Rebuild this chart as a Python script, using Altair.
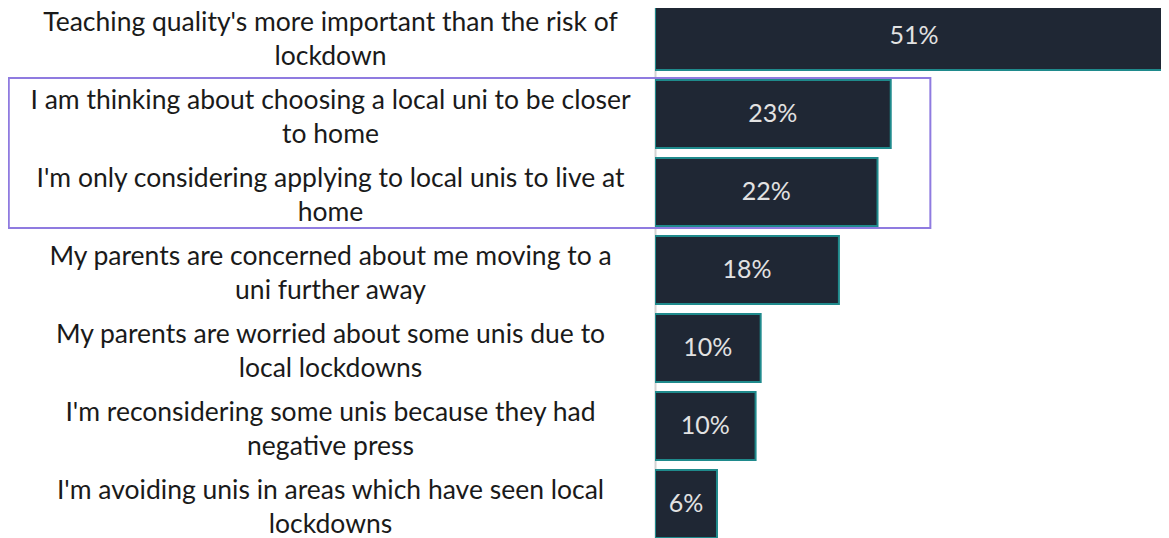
import altair as alt
import pandas as pd

# ---- data ----
statements = [
    "Teaching quality's more important than the risk of|lockdown",
    "I am thinking about choosing a local uni to be closer|to home",
    "I'm only considering applying to local unis to live at|home",
    "My parents are concerned about me moving to a|uni further away",
    "My parents are worried about some unis due to|local lockdowns",
    "I'm reconsidering some unis because they had|negative press",
    "I'm avoiding unis in areas which have seen local|lockdowns",
]
values = [51.0, 23.2, 21.9, 18.1, 10.4, 9.9, 6.1]
value_labels = ["51%", "23%", "22%", "18%", "10%", "10%", "6%"]

# highlighted rows (purple box) and its horizontal extent in value units
highlight_rows = [statements[1], statements[2]]
highlight_x = [-63.6, 27.1]
x_max = 49.8

df = pd.DataFrame({"statement": statements, "value": values, "label": value_labels})
box_df = pd.DataFrame({
    "r0": [highlight_rows[0]], "r1": [highlight_rows[1]],
    "x0": [highlight_x[0]], "x1": [highlight_x[1]],
})

y_scale = alt.Scale(domain=statements, range=[-11, 535], paddingInner=0.128, paddingOuter=0.064)
x_scale = alt.Scale(domain=[0, x_max], nice=False, zero=True)

y_axis = alt.Axis(
    title=None, ticks=False, grid=False,
    domain=True, domainColor="#d3d3d3", domainWidth=2,
    labelAlign="center", labelBaseline="middle", labelPadding=325,
    labelOffset=-13,
    labelFont="Lato", labelFontSize=26.5, labelColor="#1a1a1a",
    labelLimit=900, labelLineHeight=34,
    labelExpr="split(datum.label, '|')",
)

base = alt.Chart(df).encode(
    y=alt.Y("statement:N", scale=y_scale, sort=statements, axis=y_axis)
)

bars = base.mark_bar(
    fill="#1f2734", stroke="#1f8a8c", strokeWidth=2, clip=True
).encode(x=alt.X("value:Q", scale=x_scale, axis=None))

text = base.transform_calculate(mid="datum.value / 2").mark_text(
    font="Lato", fontSize=25, color="#e2e2e2", align="center", baseline="middle"
).encode(
    x=alt.X("mid:Q", scale=x_scale, axis=None),
    text="label:N",
)

box = alt.Chart(box_df).mark_rect(
    filled=False, stroke="#8f7be0", strokeWidth=2, clip=False,
    yOffset=-36, y2Offset=36,
).encode(
    x=alt.X("x0:Q", scale=x_scale, axis=None),
    x2="x1:Q",
    y=alt.Y("r0:N", scale=y_scale, sort=statements),
    y2="r1:N",
)

chart = alt.layer(bars, text, box).properties(
    width=506, height=530,
    autosize=alt.AutoSizeParams(type="none"),
    padding={"left": 647, "top": 0, "right": 0, "bottom": 0},
    background="white",
).configure_view(stroke=None)

chart.save("out.html", embed_options={"renderer": "svg", "actions": False})
